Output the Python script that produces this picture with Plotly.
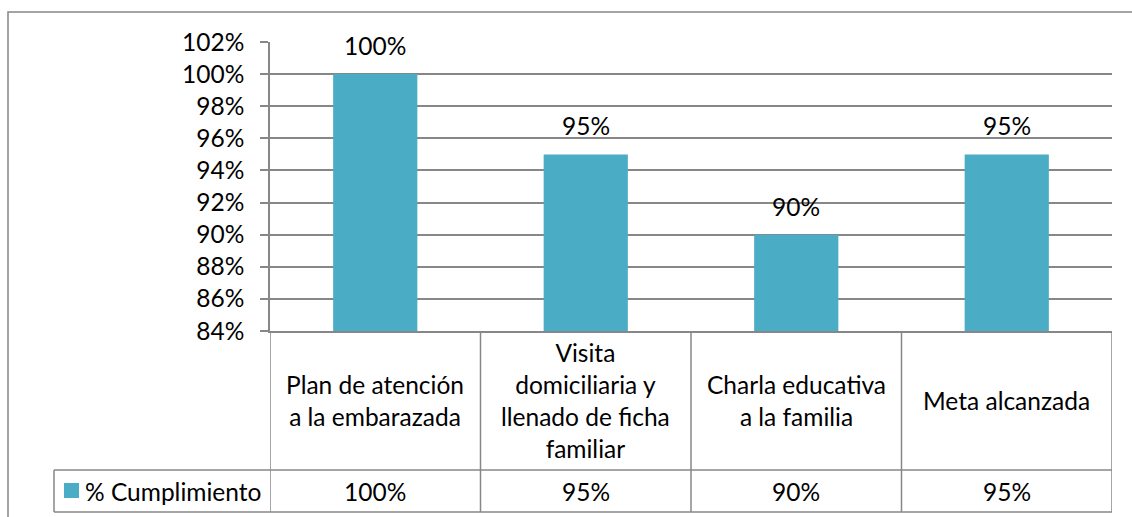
import plotly.graph_objects as go

# ---- data ----
categories = ["Plan de atención a la embarazada",
              "Visita domiciliaria y llenado de ficha familiar",
              "Charla educativa a la familia",
              "Meta alcanzada"]
category_labels = ["Plan de atención<br>a la embarazada",
                   "Visita<br>domiciliaria y<br>llenado de ficha<br>familiar",
                   "Charla educativa<br>a la familia",
                   "Meta alcanzada"]
series_name = "% Cumplimiento"
values = [1.00, 0.95, 0.90, 0.95]
y_ticks = [0.84, 0.86, 0.88, 0.90, 0.92, 0.94, 0.96, 0.98, 1.00, 1.02]

# ---- styling ----
W, H = 1132, 517
BAR = "#4BACC6"
GRID = "#878787"
FONT = "Lato"
FS = 24.5


def px(x):
    return x / W


def py(y):
    return 1 - y / H


x_idx = list(range(len(categories)))

fig = go.Figure()
fig.add_trace(go.Bar(x=x_idx, y=values, name=series_name,
                     marker=dict(color=BAR, line=dict(width=0)),
                     width=0.4, showlegend=False, hoverinfo="skip"))

PLOT_L, PLOT_R, PLOT_T, PLOT_B = 270, 1112, 42, 331
ROW1_B, ROW2_B, LEG_L = 470, 512, 54

fig.update_layout(
    width=W, height=H,
    margin=dict(l=0, r=0, t=0, b=0, pad=0, autoexpand=False),
    showlegend=False,
    paper_bgcolor="white", plot_bgcolor="white",
    font=dict(family=FONT, size=FS, color="black"),
    xaxis=dict(domain=[px(PLOT_L), px(PLOT_R)], range=[-0.5, len(categories) - 0.5],
               showticklabels=False, showgrid=False, zeroline=False, automargin=False,
               showline=True, linecolor=GRID, linewidth=1.5, ticks=""),
    yaxis=dict(domain=[py(PLOT_B), py(PLOT_T)], range=[y_ticks[0], y_ticks[-1]],
               tickvals=y_ticks, tickformat=".0%", automargin=False,
               showgrid=True, gridcolor=GRID, gridwidth=1.5,
               zeroline=False, showline=True, linecolor=GRID, linewidth=1.5,
               ticks="outside", ticklen=8, tickcolor=GRID, tickwidth=1.5,
               ticklabelstandoff=11,
               tickfont=dict(family=FONT, size=FS, color="black")),
)

shapes = []
# outer border
shapes.append(dict(type="rect", xref="paper", yref="paper",
                   x0=px(8), x1=1.02, y0=py(12), y1=-0.02,
                   line=dict(color=GRID, width=1.5), fillcolor="rgba(0,0,0,0)", layer="below"))
# table vertical separators
for i in range(len(categories) + 1):
    shapes.append(dict(type="line", xref="x", yref="paper",
                       x0=i - 0.5, x1=i - 0.5, y0=py(PLOT_B), y1=py(ROW2_B),
                       line=dict(color=GRID, width=1.5)))
# legend cell left border
shapes.append(dict(type="line", xref="paper", yref="paper",
                   x0=px(LEG_L), x1=px(LEG_L), y0=py(ROW1_B), y1=py(ROW2_B),
                   line=dict(color=GRID, width=1.5)))
# table horizontal lines
for yy in (ROW1_B, ROW2_B):
    shapes.append(dict(type="line", xref="paper", yref="paper",
                       x0=px(LEG_L), x1=px(PLOT_R), y0=py(yy), y1=py(yy),
                       line=dict(color=GRID, width=1.5)))
# legend key
shapes.append(dict(type="rect", xref="paper", yref="paper",
                   x0=px(64), x1=px(79), y0=py(498), y1=py(483),
                   fillcolor=BAR, line=dict(width=0)))
fig.update_layout(shapes=shapes)

annotations = []
# data labels
for i, v in zip(x_idx, values):
    annotations.append(dict(x=i, y=v, xref="x", yref="y", text=f"{v:.0%}",
                            showarrow=False, yanchor="bottom", yshift=12,
                            font=dict(family=FONT, size=FS, color="black")))
# category row
for i, lab in zip(x_idx, category_labels):
    annotations.append(dict(x=i, y=py((PLOT_B + ROW1_B) / 2), xref="x", yref="paper",
                            text=lab, showarrow=False, yanchor="middle",
                            font=dict(family=FONT, size=FS, color="black")))
# values row
for i, v in zip(x_idx, values):
    annotations.append(dict(x=i, y=py((ROW1_B + ROW2_B) / 2), xref="x", yref="paper",
                            text=f"{v:.0%}", showarrow=False, yanchor="middle",
                            font=dict(family=FONT, size=FS, color="black")))
# legend label
annotations.append(dict(x=px(83), y=py((ROW1_B + ROW2_B) / 2), xref="paper", yref="paper",
                        text=series_name, showarrow=False, xanchor="left", yanchor="middle",
                        font=dict(family=FONT, size=FS, color="black")))
fig.update_layout(annotations=annotations)

post = """
document.documentElement.style.margin='0';
document.body.style.margin='0';
document.body.style.overflow='hidden';
"""
fig.write_html("out.html", post_script=post, config={"displayModeBar": False})
